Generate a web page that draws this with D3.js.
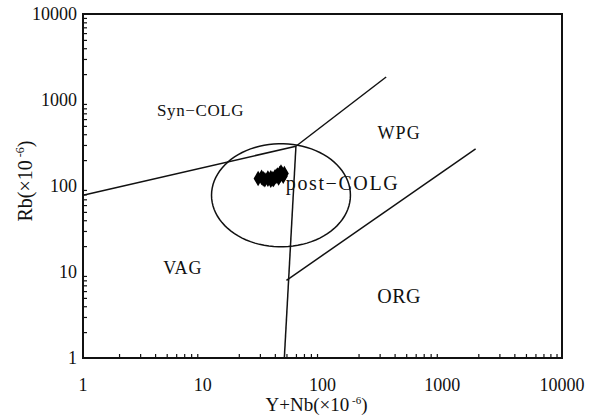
<!DOCTYPE html>
<html>
<head>
<meta charset="utf-8">
<script src="https://cdn.jsdelivr.net/npm/d3@7"></script>
<style>
  body { margin: 0; background: #fff; }
</style>
</head>
<body>
<div id="chart"></div>
<script>
// axis ticks
const xTicks = [1, 10, 100, 1000, 10000];
const yTicks = [1, 10, 100, 1000, 10000];

// field boundaries (Y+Nb, Rb)
const synVagLine = [[1, 78], [60, 290]];
const wpgSynLine = [[60, 290], [340, 1850]];
const vagOrgLine = [[60, 290], [48, 1]];
const wpgOrgLine = [[50, 8], [1900, 270]];

// post-COLG circle: centre and radius in log decades
const postCenter = [45, 78];
const postRadius = [0.58, 0.6];

// field labels
const fieldLabels = [
  { text: "Syn−COLG", x: 9.6, y: 650, size: 17, sp: 0.6 },
  { text: "WPG", x: 437, y: 355, size: 18, sp: 1.2 },
  { text: "post−COLG", x: 147, y: 90, size: 20, sp: 1.6 },
  { text: "VAG", x: 6.8, y: 9.5, size: 18, sp: 0.8 },
  { text: "ORG", x: 437, y: 4.4, size: 20, sp: 0.5 }
];

// samples
const sampleX = [29, 31, 33, 35, 37, 38, 40, 42, 44, 46, 47, 43, 39, 35, 37, 41, 45, 44, 32, 48];
const sampleY = [122, 126, 118, 124, 117, 121, 127, 134, 140, 137, 130, 124, 119, 120, 125, 130, 145, 132, 121, 140];

const W = 590, H = 418;
const margin = { top: 14, right: 28, bottom: 60, left: 83 };
const FONT = "'Liberation Serif', 'Times New Roman', Times, serif";

const svg = d3.select("#chart").append("svg")
  .attr("width", W).attr("height", H)
  .attr("font-family", FONT)
  .style("font-family", FONT);

const x = d3.scaleLog().domain([1, 10000]).range([margin.left, W - margin.right]);
const y = d3.scaleLog().domain([1, 10000]).range([H - margin.bottom, margin.top]);

const minor = [];
for (let d = 1; d < 10000; d *= 10) {
  for (let k = 2; k <= 9; k++) minor.push(d * k);
}

// frame
svg.append("rect")
  .attr("x", x(1)).attr("y", y(10000))
  .attr("width", x(10000) - x(1)).attr("height", y(1) - y(10000))
  .attr("fill", "none").attr("stroke", "#111").attr("stroke-width", 2);

// bottom axis: inward ticks
const xAxis = svg.append("g")
  .attr("transform", "translate(0," + y(1) + ")")
  .call(d3.axisBottom(x).tickValues(minor).tickSize(-4).tickFormat(""));
xAxis.select(".domain").remove();
xAxis.selectAll("line").attr("stroke", "#111").attr("stroke-width", 1.2);

svg.selectAll(".xlab").data(xTicks).enter().append("text")
  .attr("x", d => x(d)).attr("y", y(1) + 33)
  .attr("text-anchor", "middle").attr("font-size", 18).attr("fill", "#111")
  .text(d => d);

// left axis: inward ticks
const yAxis = svg.append("g")
  .attr("transform", "translate(" + x(1) + ",0)")
  .call(d3.axisLeft(y).tickValues(minor).tickSize(-4).tickFormat(""));
yAxis.select(".domain").remove();
yAxis.selectAll("line").attr("stroke", "#111").attr("stroke-width", 1.2);

svg.selectAll(".ylab").data(yTicks).enter().append("text")
  .attr("x", x(1) - 6).attr("y", d => y(d) + 6)
  .attr("text-anchor", "end").attr("font-size", 18).attr("fill", "#111")
  .text(d => d);

// axis titles
const xt = svg.append("text")
  .attr("x", (x(1) + x(10000)) / 2 - 6).attr("y", 411)
  .attr("text-anchor", "middle").attr("font-size", 19).attr("fill", "#111");
xt.append("tspan").text("Y+Nb(×10");
xt.append("tspan").attr("dy", -7).attr("font-size", 11).text(" -6");
xt.append("tspan").attr("dy", 7).text(")");

const yt = svg.append("text")
  .attr("transform", "translate(32," + 181 + ") rotate(-90)")
  .attr("text-anchor", "middle").attr("font-size", 20).attr("fill", "#111");
yt.append("tspan").text("Rb(×10");
yt.append("tspan").attr("dy", -8).attr("font-size", 12).text(" -6");
yt.append("tspan").attr("dy", 8).text(")");

// boundaries
const line = d3.line().x(d => x(d[0])).y(d => y(d[1]));
[synVagLine, wpgSynLine, vagOrgLine, wpgOrgLine].forEach(seg => {
  svg.append("path").attr("d", line(seg))
    .attr("fill", "none").attr("stroke", "#111").attr("stroke-width", 1.5);
});

// post-COLG circle
const circlePts = d3.range(0, 361, 4).map(a => {
  const t = a * Math.PI / 180;
  return [postCenter[0] * Math.pow(10, postRadius[0] * Math.cos(t)),
          postCenter[1] * Math.pow(10, postRadius[1] * Math.sin(t))];
});
svg.append("path").attr("d", line(circlePts) + "Z")
  .attr("fill", "none").attr("stroke", "#111").attr("stroke-width", 1.5);

// samples
svg.selectAll(".pt").data(sampleX).enter().append("path")
  .attr("d", d3.symbol().type(d3.symbolDiamond).size(70))
  .attr("transform", (d, i) => "translate(" + x(d) + "," + y(sampleY[i]) + ")")
  .attr("fill", "#000");

// field labels
svg.selectAll(".field").data(fieldLabels).enter().append("text")
  .attr("x", d => x(d.x)).attr("y", d => y(d.y))
  .attr("text-anchor", "middle")
  .attr("font-size", d => d.size).attr("letter-spacing", d => d.sp)
  .attr("fill", "#111")
  .text(d => d.text);
</script>
</body>
</html>
